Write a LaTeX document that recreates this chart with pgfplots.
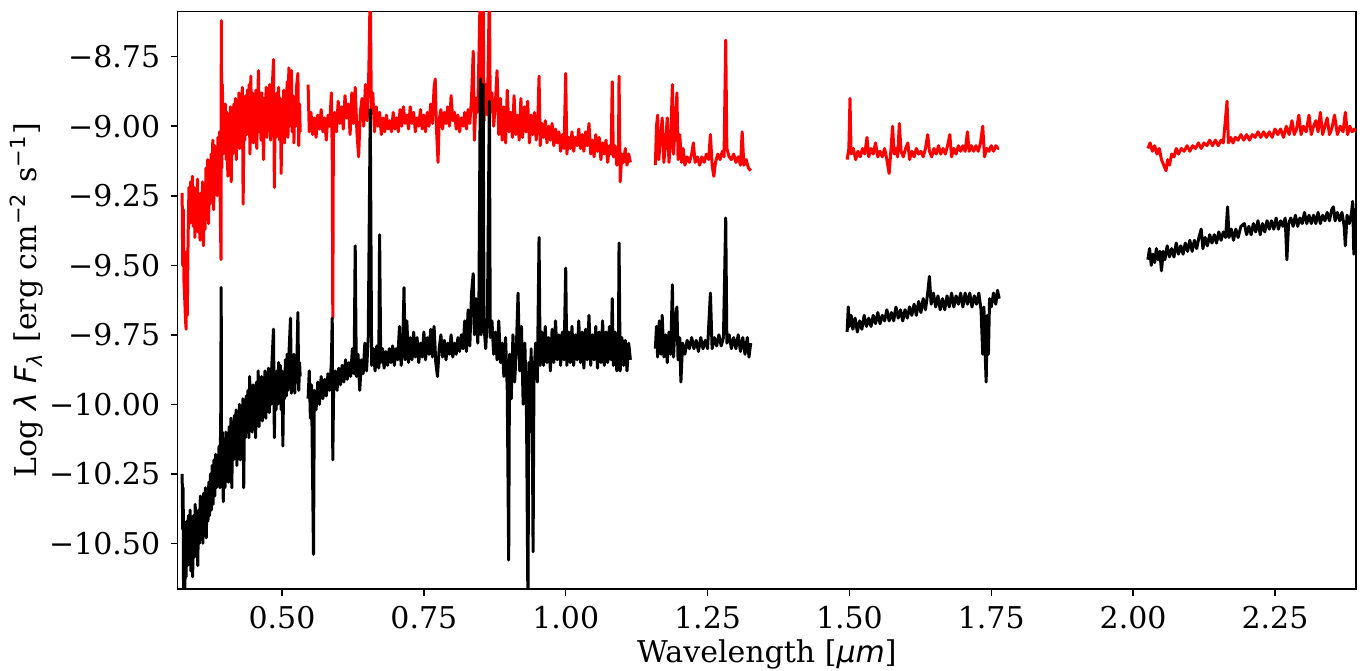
\documentclass[border=0pt]{standalone}
\usepackage{fontspec}
\setmainfont{DejaVu Serif}
\newfontfamily\dvs{DejaVu Sans}
\usepackage{pgfplots}
\pgfplotsset{compat=1.18}

\begin{document}
\begin{tikzpicture}
\begin{axis}[
    scale only axis,
    width=392.8pt, height=192.4pt,
    xmin=0.316, xmax=2.393,
    ymin=-10.664, ymax=-8.588,
    axis line style={line width=0.5pt},
    tick align=outside, tick pos=left,
    major tick length=2.3pt,
    every tick/.style={black, line width=0.5pt},
    xtick={0.5,0.75,1.0,1.25,1.5,1.75,2.0,2.25},
    xticklabels={0.50,0.75,1.00,1.25,1.50,1.75,2.00,2.25},
    ytick={-10.5,-10.25,-10,-9.75,-9.5,-9.25,-9,-8.75},
    yticklabels={−10.50,−10.25,−10.00,−9.75,−9.50,−9.25,−9.00,−8.75},
    tick label style={font=\fontsize{10}{12}\selectfont},
    label style={font=\fontsize{10}{12}\selectfont},
    xlabel={Wavelength [{\dvs\itshape μm}]},
    ylabel={Log {\dvs\itshape λ F}\textsubscript{\dvs\itshape λ} [erg cm\textsuperscript{\dvs −2} s\textsuperscript{\dvs −1}]},
    every axis x label/.style={at={(axis description cs:0.5,-0.1143)}, anchor=center},
    every axis y label/.style={at={(axis description cs:-0.1279,0.5)}, anchor=center, rotate=90},
    unbounded coords=jump,
    every axis plot/.append style={line width=1pt, line join=round},
]
\coordinate (SW) at (rel axis cs:0,0);
\coordinate (NE) at (rel axis cs:1,1);

% red spectrum
\addplot[red] coordinates {
(0.3240,-9.24) (0.3250,-9.50) (0.3260,-9.30) (0.3270,-9.55) (0.3285,-9.62) (0.3300,-9.70) (0.3310,-9.73) (0.3320,-9.45)
(0.3330,-9.68) (0.3345,-9.40) (0.3360,-9.22) (0.3375,-9.35) (0.3390,-9.20) (0.3405,-9.30) (0.3420,-9.18) (0.3435,-9.36)
(0.3450,-9.22) (0.3465,-9.40) (0.3480,-9.25) (0.3495,-9.33) (0.3510,-9.19) (0.3525,-9.38) (0.3540,-9.27) (0.3555,-9.41)
(0.3570,-9.24) (0.3585,-9.36) (0.3600,-9.20) (0.3615,-9.43) (0.3630,-9.28) (0.3645,-9.37) (0.3660,-9.15) (0.3675,-9.30)
(0.3690,-9.12) (0.3705,-9.35) (0.3720,-9.18) (0.3735,-9.28) (0.3750,-9.10) (0.3765,-9.24) (0.3780,-9.05) (0.3795,-9.30)
(0.3810,-9.07) (0.3825,-9.20) (0.3840,-9.09) (0.3855,-9.25) (0.3870,-9.04) (0.3885,-9.18) (0.3900,-9.02) (0.3915,-9.35)
(0.3925,-9.48) (0.3930,-8.62) (0.3940,-9.15) (0.3950,-8.85) (0.3960,-9.10) (0.3970,-8.96) (0.3985,-9.05) (0.4000,-8.92)
(0.4015,-9.12) (0.4030,-8.95) (0.4045,-9.18) (0.4060,-8.98) (0.4075,-9.08) (0.4090,-8.93) (0.4105,-9.20) (0.4120,-8.96)
(0.4135,-9.10) (0.4150,-8.92) (0.4165,-9.05) (0.4180,-8.90) (0.4195,-9.12) (0.4210,-8.96) (0.4225,-9.02) (0.4240,-8.88)
(0.4255,-9.08) (0.4270,-8.93) (0.4285,-9.00) (0.4300,-8.86) (0.4315,-9.28) (0.4330,-8.95) (0.4345,-9.05) (0.4360,-8.89)
(0.4375,-9.03) (0.4390,-8.87) (0.4405,-8.99) (0.4420,-8.85) (0.4435,-9.10) (0.4450,-8.82) (0.4465,-9.02) (0.4480,-8.88)
(0.4495,-9.06) (0.4510,-8.90) (0.4525,-9.00) (0.4540,-8.87) (0.4555,-9.08) (0.4570,-8.92) (0.4585,-8.80) (0.4600,-9.02)
(0.4615,-8.90) (0.4630,-9.05) (0.4645,-8.88) (0.4660,-8.98) (0.4675,-9.12) (0.4690,-8.90) (0.4705,-9.00) (0.4720,-8.86)
(0.4735,-9.04) (0.4750,-8.89) (0.4765,-8.98) (0.4780,-8.85) (0.4800,-9.05) (0.4820,-8.90) (0.4850,-8.76) (0.4865,-9.22)
(0.4880,-8.95) (0.4895,-9.04) (0.4910,-8.88) (0.4925,-9.00) (0.4940,-8.86) (0.4955,-9.05) (0.4970,-8.90) (0.4985,-9.17)
(0.5000,-8.92) (0.5015,-9.02) (0.5030,-8.87) (0.5045,-9.06) (0.5060,-8.89) (0.5075,-8.98) (0.5090,-8.84) (0.5105,-9.04)
(0.5120,-8.79) (0.5135,-9.00) (0.5150,-8.88) (0.5165,-8.80) (0.5180,-9.02) (0.5195,-8.89) (0.5210,-9.06) (0.5225,-8.91)
(0.5240,-9.00) (0.5255,-8.86) (0.5280,-8.81) (0.5295,-9.07) (0.5310,-8.92) (0.5320,-9.02)
(0.5400,nan)
(0.546,-8.85) (0.548,-9.02) (0.551,-8.95) (0.554,-9.03) (0.557,-8.97) (0.560,-9.04) (0.563,-8.96) (0.566,-9.01)
(0.569,-8.94) (0.572,-9.02) (0.575,-8.97) (0.578,-9.05) (0.581,-8.96) (0.584,-9.00) (0.587,-8.88) (0.5885,-9.10)
(0.5895,-9.69) (0.5905,-9.05) (0.593,-8.95) (0.596,-9.02) (0.599,-8.91) (0.602,-8.99) (0.605,-8.93) (0.608,-9.01)
(0.611,-8.89) (0.614,-8.97) (0.617,-8.92) (0.620,-9.03) (0.623,-8.88) (0.626,-8.99) (0.629,-8.86) (0.632,-9.02)
(0.635,-9.11) (0.638,-8.95) (0.641,-8.90) (0.644,-9.00) (0.647,-8.85) (0.650,-8.98) (0.653,-8.80) (0.6555,-8.50)
(0.6575,-8.95) (0.660,-8.88) (0.663,-9.02) (0.666,-8.93) (0.669,-9.00) (0.672,-8.95) (0.675,-9.03) (0.678,-8.97)
(0.681,-9.02) (0.684,-8.96) (0.687,-9.01) (0.690,-8.98) (0.693,-9.02) (0.696,-8.95) (0.699,-9.01) (0.702,-8.97)
(0.705,-9.02) (0.708,-8.94) (0.711,-9.00) (0.714,-8.93) (0.717,-8.99) (0.720,-8.96) (0.723,-9.01) (0.726,-8.93)
(0.729,-8.99) (0.732,-8.95) (0.735,-9.02) (0.738,-8.97) (0.741,-9.00) (0.744,-8.94) (0.747,-9.01) (0.750,-8.96)
(0.753,-9.02) (0.756,-8.95) (0.759,-9.00) (0.762,-8.92) (0.765,-8.99) (0.768,-8.86) (0.770,-8.83) (0.772,-9.00)
(0.775,-9.13) (0.777,-8.98) (0.780,-8.94) (0.783,-9.01) (0.786,-8.95) (0.789,-8.99) (0.792,-8.93) (0.795,-9.00)
(0.798,-8.89) (0.801,-8.98) (0.804,-8.95) (0.807,-9.01) (0.810,-8.96) (0.813,-9.02) (0.816,-8.97) (0.819,-9.00)
(0.822,-8.95) (0.825,-9.01) (0.828,-8.94) (0.831,-8.99) (0.834,-8.90) (0.837,-8.73) (0.839,-9.05) (0.842,-8.90)
(0.845,-8.95) (0.847,-8.75) (0.8495,-8.50) (0.851,-9.03) (0.853,-8.80) (0.8545,-8.50) (0.856,-8.98) (0.859,-8.85)
(0.862,-8.96) (0.8655,-8.50) (0.867,-8.95) (0.870,-8.88) (0.873,-9.00) (0.876,-8.92) (0.879,-8.80) (0.882,-9.03)
(0.885,-8.90) (0.888,-9.05) (0.891,-8.93) (0.894,-9.06) (0.897,-8.87) (0.900,-9.02) (0.903,-8.95) (0.906,-9.04)
(0.909,-8.89) (0.912,-9.03) (0.915,-8.96) (0.918,-9.05) (0.921,-8.90) (0.924,-9.04) (0.927,-8.93) (0.930,-9.02)
(0.933,-8.91) (0.936,-9.06) (0.939,-8.96) (0.942,-9.03) (0.945,-8.95) (0.948,-9.05) (0.951,-8.97) (0.953,-8.82)
(0.955,-9.07) (0.958,-8.99) (0.961,-9.04) (0.964,-8.98) (0.967,-9.06) (0.970,-9.00) (0.973,-9.05) (0.976,-8.99)
(0.979,-9.07) (0.982,-9.01) (0.985,-9.06) (0.988,-9.02) (0.991,-9.09) (0.994,-9.03) (0.997,-9.08) (1.000,-8.81)
(1.002,-9.10) (1.005,-9.04) (1.008,-9.08) (1.011,-9.02) (1.014,-9.09) (1.017,-9.04) (1.020,-9.07) (1.023,-9.01)
(1.026,-9.08) (1.029,-9.03) (1.032,-9.09) (1.035,-9.02) (1.038,-9.07) (1.041,-8.99) (1.044,-9.10) (1.047,-9.05)
(1.050,-9.11) (1.053,-9.03) (1.056,-9.09) (1.059,-9.04) (1.062,-9.12) (1.065,-9.06) (1.068,-9.10) (1.071,-9.05)
(1.074,-9.13) (1.077,-9.07) (1.080,-9.10) (1.082,-8.84) (1.084,-9.11) (1.087,-9.07) (1.090,-9.14) (1.093,-9.08)
(1.094,-8.82) (1.096,-9.20) (1.099,-9.10) (1.102,-9.13) (1.105,-9.08) (1.108,-9.14) (1.111,-9.10) (1.114,-9.13)
(1.130,nan)
(1.158,-9.14) (1.160,-9.00) (1.162,-8.96) (1.164,-9.12) (1.167,-9.05) (1.170,-8.97) (1.173,-9.13) (1.176,-9.06)
(1.179,-8.97) (1.182,-9.13) (1.185,-9.05) (1.188,-8.85) (1.190,-9.10) (1.193,-9.00) (1.196,-8.88) (1.198,-9.12)
(1.201,-9.03) (1.204,-9.13) (1.207,-9.08) (1.210,-9.14) (1.214,-9.11) (1.218,-9.13) (1.222,-9.10) (1.225,-9.06)
(1.228,-9.13) (1.232,-9.11) (1.236,-9.14) (1.240,-9.11) (1.244,-9.13) (1.248,-9.10) (1.252,-9.12) (1.255,-9.03)
(1.258,-9.14) (1.261,-9.18) (1.264,-9.13) (1.268,-9.10) (1.272,-9.12) (1.276,-9.09) (1.279,-9.11) (1.282,-8.69)
(1.284,-9.08) (1.288,-9.11) (1.292,-9.12) (1.296,-9.10) (1.300,-9.13) (1.304,-9.11) (1.308,-9.14) (1.311,-9.02)
(1.314,-9.14) (1.318,-9.12) (1.322,-9.15) (1.326,-9.16)
(1.400,nan)
(1.496,-9.12) (1.499,-9.08) (1.501,-8.90) (1.503,-9.10) (1.507,-9.08) (1.511,-9.12) (1.515,-9.09) (1.519,-9.11)
(1.523,-9.08) (1.527,-9.10) (1.531,-9.04) (1.534,-9.11) (1.538,-9.08) (1.542,-9.10) (1.546,-9.06) (1.550,-9.11)
(1.554,-9.09) (1.558,-9.11) (1.562,-9.08) (1.566,-9.12) (1.570,-9.17) (1.573,-9.09) (1.576,-9.00) (1.579,-9.10)
(1.582,-9.08) (1.585,-9.11) (1.588,-8.99) (1.591,-9.09) (1.595,-9.11) (1.599,-9.08) (1.603,-9.06) (1.606,-9.12)
(1.610,-9.09) (1.614,-9.11) (1.618,-9.08) (1.622,-9.10) (1.626,-9.09) (1.630,-9.11) (1.634,-9.08) (1.638,-9.03)
(1.641,-9.09) (1.645,-9.11) (1.649,-9.08) (1.653,-9.10) (1.657,-9.07) (1.661,-9.10) (1.665,-9.08) (1.669,-9.10)
(1.673,-9.07) (1.677,-9.03) (1.680,-9.11) (1.684,-9.08) (1.688,-9.10) (1.692,-9.07) (1.696,-9.09) (1.700,-9.07)
(1.704,-9.09) (1.708,-9.02) (1.711,-9.09) (1.715,-9.07) (1.719,-9.09) (1.723,-9.07) (1.727,-9.09) (1.731,-9.06)
(1.735,-9.00) (1.738,-9.11) (1.742,-9.08) (1.746,-9.09) (1.750,-9.07) (1.754,-9.09) (1.758,-9.07) (1.762,-9.08)
(1.764,-9.08)
(1.900,nan)
(2.026,-9.08) (2.030,-9.06) (2.034,-9.09) (2.038,-9.07) (2.042,-9.10) (2.046,-9.08) (2.050,-9.12) (2.054,-9.14)
(2.058,-9.16) (2.061,-9.12) (2.064,-9.14) (2.068,-9.10) (2.072,-9.11) (2.076,-9.08) (2.080,-9.10) (2.085,-9.08)
(2.090,-9.09) (2.095,-9.07) (2.100,-9.09) (2.105,-9.07) (2.110,-9.08) (2.115,-9.06) (2.120,-9.08) (2.125,-9.06)
(2.130,-9.07) (2.135,-9.05) (2.140,-9.07) (2.145,-9.05) (2.150,-9.07) (2.155,-9.05) (2.159,-9.06) (2.1655,-8.91)
(2.168,-9.06) (2.172,-9.04) (2.176,-9.06) (2.180,-9.04) (2.185,-9.05) (2.190,-9.03) (2.195,-9.05) (2.200,-9.03)
(2.205,-9.05) (2.210,-9.03) (2.215,-9.04) (2.220,-9.02) (2.225,-9.04) (2.230,-9.02) (2.235,-9.04) (2.240,-9.02)
(2.245,-9.04) (2.250,-9.01) (2.255,-9.03) (2.260,-9.01) (2.265,-9.04) (2.270,-9.00) (2.275,-9.03) (2.280,-8.98)
(2.284,-9.03) (2.288,-9.01) (2.292,-8.96) (2.296,-9.03) (2.300,-9.00) (2.305,-9.02) (2.310,-8.96) (2.314,-9.03)
(2.318,-9.00) (2.322,-8.98) (2.326,-9.02) (2.330,-8.95) (2.334,-9.03) (2.338,-9.00) (2.342,-8.97) (2.346,-9.03)
(2.350,-9.01) (2.355,-8.96) (2.360,-9.03) (2.365,-9.00) (2.370,-9.02) (2.374,-8.95) (2.378,-9.03) (2.382,-9.00)
(2.386,-9.02) (2.390,-9.01) (2.394,-9.02)
};

% black spectrum
\addplot[black] coordinates {
(0.3240,-10.25) (0.3250,-10.45) (0.3258,-10.30) (0.3265,-10.70) (0.3275,-10.55) (0.3285,-10.70) (0.3300,-10.50) (0.3310,-10.62)
(0.3320,-10.42) (0.3335,-10.58) (0.3350,-10.40) (0.3365,-10.55) (0.3380,-10.38) (0.3395,-10.60) (0.3410,-10.45) (0.3425,-10.62)
(0.3440,-10.40) (0.3455,-10.55) (0.3470,-10.36) (0.3485,-10.52) (0.3500,-10.42) (0.3515,-10.58) (0.3530,-10.38) (0.3545,-10.50)
(0.3560,-10.33) (0.3575,-10.48) (0.3590,-10.35) (0.3605,-10.50) (0.3620,-10.32) (0.3635,-10.45) (0.3650,-10.30) (0.3665,-10.48)
(0.3680,-10.32) (0.3695,-10.42) (0.3710,-10.28) (0.3725,-10.40) (0.3740,-10.25) (0.3755,-10.38) (0.3770,-10.22) (0.3785,-10.36)
(0.3800,-10.20) (0.3815,-10.33) (0.3830,-10.18) (0.3845,-10.30) (0.3860,-10.22) (0.3875,-10.28) (0.3890,-10.15) (0.3905,-10.30)
(0.3920,-10.05) (0.3928,-9.58) (0.3935,-10.25) (0.3950,-10.10) (0.3965,-10.35) (0.3980,-10.15) (0.3995,-10.30) (0.4010,-10.10)
(0.4025,-10.25) (0.4040,-10.12) (0.4055,-10.28) (0.4070,-10.08) (0.4085,-10.22) (0.4100,-10.05) (0.4115,-10.30) (0.4130,-10.08)
(0.4145,-10.20) (0.4160,-10.04) (0.4175,-10.18) (0.4190,-10.02) (0.4205,-10.22) (0.4220,-10.05) (0.4235,-10.15) (0.4250,-10.00)
(0.4265,-10.20) (0.4280,-10.03) (0.4295,-10.14) (0.4310,-9.98) (0.4325,-10.30) (0.4340,-10.02) (0.4355,-10.12) (0.4370,-9.97)
(0.4385,-10.10) (0.4400,-9.95) (0.4415,-10.12) (0.4430,-9.90) (0.4445,-10.08) (0.4460,-9.96) (0.4475,-10.10) (0.4490,-9.93)
(0.4505,-10.06) (0.4520,-9.95) (0.4535,-10.12) (0.4550,-9.92) (0.4565,-10.05) (0.4580,-9.88) (0.4595,-10.08) (0.4610,-9.93)
(0.4625,-10.02) (0.4640,-9.90) (0.4655,-10.06) (0.4670,-9.91) (0.4685,-10.02) (0.4700,-9.88) (0.4715,-10.05) (0.4730,-9.92)
(0.4745,-10.00) (0.4760,-9.87) (0.4775,-10.03) (0.4790,-9.90) (0.4805,-10.00) (0.4820,-9.86) (0.4850,-9.73) (0.4865,-10.12)
(0.4880,-9.92) (0.4895,-10.02) (0.4910,-9.88) (0.4925,-10.00) (0.4940,-9.85) (0.4955,-9.98) (0.4970,-9.86) (0.4985,-10.02)
(0.5000,-9.88) (0.5015,-10.15) (0.5030,-9.90) (0.5045,-9.98) (0.5060,-9.84) (0.5075,-9.97) (0.5090,-9.82) (0.5105,-9.95)
(0.5120,-9.83) (0.5150,-9.69) (0.5165,-9.96) (0.5180,-9.85) (0.5195,-9.94) (0.5210,-9.82) (0.5225,-9.96) (0.5240,-9.84)
(0.5255,-9.92) (0.5280,-9.67) (0.5295,-9.95) (0.5310,-9.85) (0.5320,-9.90)
(0.5400,nan)
(0.546,-9.98) (0.548,-9.88) (0.550,-10.05) (0.552,-9.93) (0.5555,-10.54) (0.557,-9.95) (0.560,-10.02) (0.563,-9.92)
(0.566,-10.00) (0.569,-9.90) (0.572,-9.98) (0.575,-9.91) (0.578,-9.97) (0.581,-9.89) (0.584,-9.95) (0.587,-9.85)
(0.5885,-9.69) (0.5895,-10.20) (0.591,-9.93) (0.594,-9.88) (0.597,-9.95) (0.600,-9.87) (0.603,-9.93) (0.606,-9.86)
(0.609,-9.92) (0.612,-9.84) (0.615,-9.91) (0.618,-9.85) (0.621,-9.90) (0.624,-9.80) (0.627,-9.89) (0.629,-9.43)
(0.631,-9.90) (0.634,-9.82) (0.637,-9.95) (0.640,-9.84) (0.643,-9.89) (0.646,-9.78) (0.649,-9.88) (0.652,-9.76)
(0.6555,-8.94) (0.658,-9.86) (0.661,-9.80) (0.664,-9.88) (0.667,-9.79) (0.6705,-9.87) (0.672,-9.39) (0.674,-9.85)
(0.677,-9.80) (0.680,-9.87) (0.683,-9.81) (0.686,-9.86) (0.689,-9.80) (0.692,-9.85) (0.695,-9.79) (0.698,-9.86)
(0.701,-9.80) (0.704,-9.84) (0.707,-9.72) (0.710,-9.86) (0.713,-9.78) (0.715,-9.58) (0.717,-9.84) (0.720,-9.70)
(0.723,-9.85) (0.726,-9.76) (0.729,-9.84) (0.732,-9.74) (0.735,-9.83) (0.738,-9.76) (0.741,-9.85) (0.744,-9.78)
(0.747,-9.83) (0.750,-9.74) (0.753,-9.84) (0.756,-9.76) (0.759,-9.82) (0.762,-9.73) (0.765,-9.83) (0.768,-9.72)
(0.771,-9.85) (0.774,-9.90) (0.777,-9.80) (0.780,-9.75) (0.783,-9.83) (0.786,-9.77) (0.789,-9.84) (0.792,-9.78)
(0.795,-9.82) (0.798,-9.75) (0.801,-9.83) (0.804,-9.78) (0.807,-9.82) (0.810,-9.76) (0.813,-9.81) (0.816,-9.75)
(0.819,-9.80) (0.822,-9.70) (0.825,-9.81) (0.828,-9.66) (0.831,-9.79) (0.834,-9.60) (0.837,-9.53) (0.839,-9.75)
(0.842,-9.62) (0.845,-9.78) (0.847,-9.65) (0.8495,-8.83) (0.851,-9.75) (0.853,-9.60) (0.8545,-8.85) (0.856,-9.72)
(0.859,-9.80) (0.862,-9.68) (0.8655,-8.91) (0.867,-9.76) (0.870,-9.70) (0.873,-9.82) (0.876,-9.74) (0.879,-9.84)
(0.882,-9.70) (0.885,-9.85) (0.888,-9.78) (0.891,-9.90) (0.894,-9.76) (0.897,-9.95) (0.8995,-10.56) (0.901,-9.82)
(0.904,-9.98) (0.907,-9.75) (0.910,-9.92) (0.913,-9.80) (0.916,-9.60) (0.919,-9.88) (0.922,-9.72) (0.925,-10.00)
(0.928,-9.78) (0.931,-10.05) (0.9335,-10.75) (0.935,-9.85) (0.937,-10.10) (0.939,-9.80) (0.941,-10.02) (0.9425,-10.53)
(0.944,-9.90) (0.947,-9.78) (0.950,-9.92) (0.953,-9.40) (0.955,-9.86) (0.958,-9.74) (0.961,-9.86) (0.964,-9.72)
(0.967,-9.85) (0.970,-9.76) (0.973,-9.88) (0.976,-9.73) (0.979,-9.85) (0.982,-9.70) (0.985,-9.84) (0.988,-9.75)
(0.991,-9.86) (0.994,-9.74) (0.997,-9.84) (1.000,-9.51) (1.002,-9.86) (1.005,-9.74) (1.008,-9.85) (1.011,-9.72)
(1.014,-9.86) (1.017,-9.75) (1.020,-9.84) (1.023,-9.70) (1.026,-9.85) (1.029,-9.74) (1.032,-9.87) (1.035,-9.73)
(1.038,-9.84) (1.041,-9.68) (1.044,-9.86) (1.047,-9.75) (1.050,-9.84) (1.053,-9.72) (1.056,-9.87) (1.059,-9.74)
(1.062,-9.85) (1.065,-9.70) (1.068,-9.86) (1.071,-9.74) (1.074,-9.85) (1.077,-9.72) (1.080,-9.84) (1.082,-9.62)
(1.084,-9.86) (1.087,-9.74) (1.090,-9.88) (1.093,-9.75) (1.094,-9.42) (1.096,-9.88) (1.099,-9.76) (1.102,-9.86)
(1.105,-9.77) (1.108,-9.88) (1.111,-9.78) (1.114,-9.84)
(1.130,nan)
(1.158,-9.80) (1.160,-9.72) (1.162,-9.83) (1.165,-9.70) (1.168,-9.82) (1.170,-9.68) (1.173,-9.83) (1.176,-9.75)
(1.179,-9.85) (1.182,-9.74) (1.185,-9.82) (1.188,-9.57) (1.190,-9.83) (1.193,-9.70) (1.196,-9.65) (1.198,-9.84)
(1.201,-9.76) (1.203,-9.92) (1.206,-9.78) (1.210,-9.82) (1.214,-9.77) (1.218,-9.80) (1.222,-9.76) (1.226,-9.80)
(1.230,-9.77) (1.234,-9.81) (1.238,-9.76) (1.242,-9.80) (1.246,-9.77) (1.250,-9.80) (1.255,-9.60) (1.258,-9.80)
(1.262,-9.76) (1.266,-9.79) (1.270,-9.75) (1.274,-9.79) (1.278,-9.76) (1.282,-9.33) (1.284,-9.78) (1.288,-9.75)
(1.292,-9.80) (1.296,-9.76) (1.300,-9.80) (1.304,-9.75) (1.308,-9.81) (1.312,-9.76) (1.316,-9.82) (1.320,-9.76)
(1.323,-9.83) (1.326,-9.78)
(1.400,nan)
(1.496,-9.74) (1.498,-9.65) (1.500,-9.72) (1.503,-9.68) (1.506,-9.73) (1.510,-9.69) (1.514,-9.74) (1.518,-9.70)
(1.522,-9.73) (1.526,-9.68) (1.530,-9.72) (1.534,-9.69) (1.538,-9.72) (1.542,-9.68) (1.546,-9.71) (1.550,-9.67)
(1.554,-9.71) (1.558,-9.68) (1.562,-9.70) (1.566,-9.66) (1.570,-9.70) (1.574,-9.67) (1.578,-9.70) (1.582,-9.65)
(1.586,-9.69) (1.590,-9.66) (1.594,-9.70) (1.598,-9.66) (1.602,-9.69) (1.606,-9.65) (1.610,-9.68) (1.614,-9.64)
(1.618,-9.68) (1.622,-9.63) (1.626,-9.67) (1.630,-9.62) (1.634,-9.66) (1.638,-9.60) (1.641,-9.54) (1.644,-9.64)
(1.648,-9.60) (1.652,-9.65) (1.656,-9.61) (1.660,-9.66) (1.664,-9.62) (1.668,-9.66) (1.672,-9.61) (1.676,-9.65)
(1.680,-9.60) (1.684,-9.65) (1.688,-9.61) (1.692,-9.64) (1.696,-9.60) (1.700,-9.65) (1.704,-9.60) (1.708,-9.64)
(1.712,-9.60) (1.716,-9.65) (1.720,-9.61) (1.724,-9.64) (1.728,-9.60) (1.732,-9.66) (1.735,-9.82) (1.737,-9.65)
(1.739,-9.80) (1.741,-9.92) (1.743,-9.68) (1.745,-9.82) (1.747,-9.62) (1.750,-9.65) (1.754,-9.60) (1.758,-9.64)
(1.761,-9.59) (1.764,-9.62)
(1.900,nan)
(2.026,-9.48) (2.029,-9.44) (2.032,-9.50) (2.035,-9.46) (2.038,-9.49) (2.041,-9.44) (2.044,-9.48) (2.047,-9.45)
(2.050,-9.52) (2.053,-9.45) (2.056,-9.48) (2.060,-9.43) (2.064,-9.47) (2.068,-9.44) (2.072,-9.47) (2.076,-9.42)
(2.080,-9.46) (2.084,-9.43) (2.088,-9.46) (2.092,-9.42) (2.096,-9.45) (2.100,-9.41) (2.104,-9.45) (2.108,-9.41)
(2.112,-9.44) (2.116,-9.40) (2.120,-9.37) (2.123,-9.44) (2.127,-9.40) (2.131,-9.43) (2.135,-9.39) (2.139,-9.42)
(2.143,-9.39) (2.147,-9.42) (2.151,-9.38) (2.155,-9.41) (2.159,-9.38) (2.163,-9.40) (2.1665,-9.29) (2.169,-9.40)
(2.173,-9.37) (2.177,-9.41) (2.181,-9.37) (2.185,-9.40) (2.190,-9.36) (2.196,-9.35) (2.200,-9.39) (2.204,-9.36)
(2.208,-9.39) (2.212,-9.35) (2.216,-9.38) (2.220,-9.34) (2.224,-9.39) (2.228,-9.35) (2.232,-9.38) (2.236,-9.34)
(2.240,-9.37) (2.244,-9.34) (2.248,-9.37) (2.252,-9.33) (2.256,-9.37) (2.260,-9.34) (2.264,-9.36) (2.268,-9.33)
(2.271,-9.48) (2.274,-9.35) (2.278,-9.33) (2.282,-9.36) (2.286,-9.32) (2.290,-9.36) (2.294,-9.33) (2.298,-9.35)
(2.302,-9.31) (2.306,-9.35) (2.310,-9.32) (2.314,-9.35) (2.318,-9.32) (2.322,-9.35) (2.326,-9.31) (2.330,-9.35)
(2.334,-9.32) (2.338,-9.34) (2.342,-9.31) (2.346,-9.34) (2.350,-9.30) (2.353,-9.29) (2.356,-9.34) (2.360,-9.31)
(2.364,-9.34) (2.368,-9.31) (2.372,-9.36) (2.374,-9.43) (2.377,-9.32) (2.381,-9.35) (2.385,-9.31) (2.387,-9.27)
(2.389,-9.46) (2.391,-9.30) (2.394,-9.33)
};
\end{axis}
\pgfresetboundingbox
\path ([shift={(-59.2pt,-27.3pt)}]SW) rectangle ([shift={(2.3pt,3.9pt)}]NE);
\end{tikzpicture}
\end{document}
